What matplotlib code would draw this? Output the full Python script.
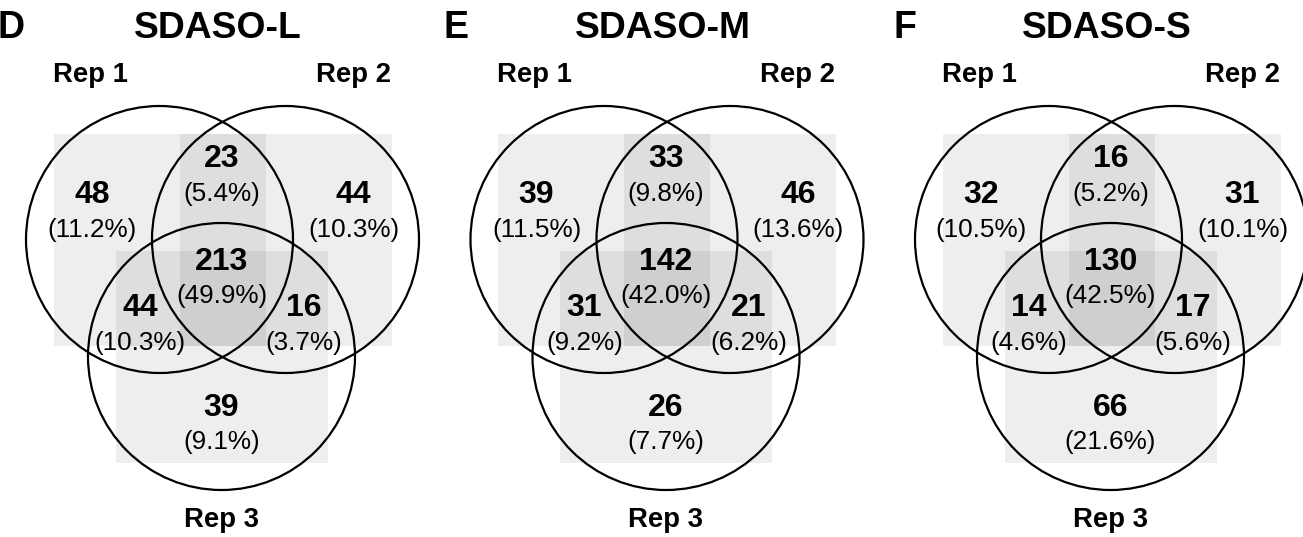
import matplotlib.pyplot as plt
from matplotlib.patches import Circle, Rectangle

plt.rcParams["font.family"] = ["Liberation Sans", "DejaVu Sans"]

# three replicate overlaps per SDASO library
panel_letters = ["D", "E", "F"]
titles = ["SDASO-L", "SDASO-M", "SDASO-S"]
set_names = ["Rep 1", "Rep 2", "Rep 3"]

# region order: 1 only, 2 only, 1&2, 1&2&3, 1&3, 2&3, 3 only
counts_L = [48, 44, 23, 213, 44, 16, 39]
counts_M = [39, 46, 33, 142, 31, 21, 26]
counts_S = [32, 31, 16, 130, 14, 17, 66]
all_counts = [counts_L, counts_M, counts_S]

# layout in pixel units, relative to each panel's left edge
panel_x0 = [0, 444.5, 889]
letter_dx = [-2, -1.5, 4]
circle_xy = [(159.5, 239.5), (285.5, 239.5), (221.5, 356.5)]
radius = 133.5
half_box = 106
region_xy = [(92, 212), (353.5, 212), (221.5, 176), (221.5, 278.5),
             (140, 325), (304, 325), (221.5, 424.5)]
set_label_xy = [(90, 75), (353.5, 75), (221.5, 520)]

fig = plt.figure(figsize=(13.03, 5.37), dpi=100)
ax = fig.add_axes([0, 0, 1, 1])
ax.set_xlim(0, 1303)
ax.set_ylim(537, 0)
ax.axis("off")

for x0, dx, letter, title, counts in zip(panel_x0, letter_dx, panel_letters,
                                         titles, all_counts):
    total = sum(counts)
    # translucent square per set, darkens where sets overlap
    for cx, cy in circle_xy:
        ax.add_patch(Rectangle((x0 + cx - half_box, cy - half_box),
                               2 * half_box, 2 * half_box,
                               facecolor="black", alpha=0.066,
                               edgecolor="none", zorder=1))
    for cx, cy in circle_xy:
        ax.add_patch(Circle((x0 + cx, cy), radius, fill=False,
                            edgecolor="black", lw=1.6, zorder=2))
    for (rx, ry), n in zip(region_xy, counts):
        ax.text(x0 + rx, ry - 17, f"{n}", ha="center", va="center",
                fontsize=23, fontweight="bold", zorder=3)
        ax.text(x0 + rx, ry + 18, f"({100 * n / total:.1f}%)",
                ha="center", va="center", fontsize=18.8, zorder=3)
    for (lx, ly), name in zip(set_label_xy, set_names):
        ax.text(x0 + lx, ly, name, ha="center", va="center",
                fontsize=19.8, fontweight="bold")
    ax.text(x0 + dx, 28, letter, ha="left", va="center",
            fontsize=27, fontweight="bold")
    ax.text(x0 + 218, 28, title, ha="center", va="center",
            fontsize=26.8, fontweight="bold")

fig.savefig("out.png", dpi=100)
